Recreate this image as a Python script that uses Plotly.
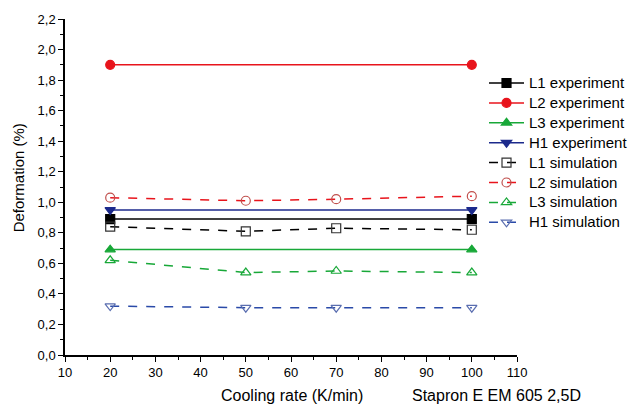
import plotly.graph_objects as go

x_exp = [20, 100]
x_sim = [20, 50, 70, 100]
l1_exp = [0.89, 0.89]
l2_exp = [1.90, 1.90]
l3_exp = [0.69, 0.69]
h1_exp = [0.95, 0.95]
l1_sim = [0.84, 0.81, 0.83, 0.82]
l2_sim = [1.03, 1.01, 1.02, 1.04]
l3_sim = [0.62, 0.54, 0.55, 0.54]
h1_sim = [0.32, 0.31, 0.31, 0.31]

BLACK = "#000000"
RED = "#e8141c"
GREEN = "#18a838"
BLUE = "#1c2a8c"
FONT = "Liberation Sans, Arial, sans-serif"

fig = go.Figure()

def add(name, x, y, lcolor, mcolor, symbol, dash):
    fig.add_trace(go.Scatter(
        x=x, y=y, name="<span style='font-size:15px'>" + name + "</span>",
        mode="lines+markers",
        line=dict(color=lcolor, width=1.5, dash=dash),
        marker=dict(symbol=symbol, size=9, color=mcolor,
                    line=dict(color=mcolor, width=1.2)),
    ))

add("L1 experiment", x_exp, l1_exp, BLACK, BLACK, "square", "solid")
add("L2 experiment", x_exp, l2_exp, RED, RED, "circle", "solid")
add("L3 experiment", x_exp, l3_exp, GREEN, GREEN, "triangle-up", "solid")
add("H1 experiment", x_exp, h1_exp, BLUE, BLUE, "triangle-down", "solid")
add("L1 simulation", x_sim, l1_sim, BLACK, "#333333", "square-open", "dash")
add("L2 simulation", x_sim, l2_sim, RED, "#c0504d", "circle-open", "dash")
add("L3 simulation", x_sim, l3_sim, GREEN, GREEN, "triangle-up-open", "dash")
add("H1 simulation", x_sim, h1_sim, "#2a4aa8", "#5a6eb0", "triangle-down-open", "dash")

axis_font = dict(family=FONT, size=13, color="#000")

fig.update_layout(
    width=628, height=397,
    margin=dict(l=57, r=119, t=11, b=50, autoexpand=False),
    paper_bgcolor="white", plot_bgcolor="white",
    separators=",.",
    font=axis_font,
    showlegend=True,
    legend=dict(x=0.927, y=0.854, xanchor="left", yanchor="top",
                font=dict(family=FONT, size=13, color="#000"),
                tracegroupgap=0, itemwidth=35, bgcolor="rgba(0,0,0,0)"),
    xaxis=dict(range=[10, 110], dtick=10, tick0=10, showgrid=False, zeroline=False,
               showline=True, linecolor="#000", linewidth=1.5,
               ticks="outside", ticklen=5, tickwidth=1.2, tickcolor="#000",
               minor=dict(ticks="outside", dtick=5, ticklen=3, tickcolor="#000", showgrid=False),
               tickfont=axis_font),
    yaxis=dict(range=[0, 2.2], dtick=0.2, tickformat=".1f", showgrid=False, zeroline=False,
               showline=True, linecolor="#000", linewidth=1.5,
               ticks="outside", ticklen=5, tickwidth=1.2, tickcolor="#000",
               minor=dict(ticks="outside", dtick=0.1, ticklen=3, tickcolor="#000", showgrid=False),
               tickfont=axis_font),
)

fig.add_annotation(text="Deformation (%)", x=-0.103, y=0.527, xref="paper", yref="paper",
                   showarrow=False, xanchor="center", yanchor="middle", textangle=-90,
                   font=dict(family=FONT, size=15, color="#000"))
fig.add_annotation(text="Cooling rate (K/min)", x=0.502, y=-0.122, xref="paper", yref="paper",
                   showarrow=False, xanchor="center", yanchor="middle",
                   font=dict(family=FONT, size=16, color="#000"))
fig.add_annotation(text="Stapron E EM 605 2,5D", x=0.955, y=-0.122, xref="paper", yref="paper",
                   showarrow=False, xanchor="center", yanchor="middle",
                   font=dict(family=FONT, size=16, color="#000"))

fig.write_html("out.html")
